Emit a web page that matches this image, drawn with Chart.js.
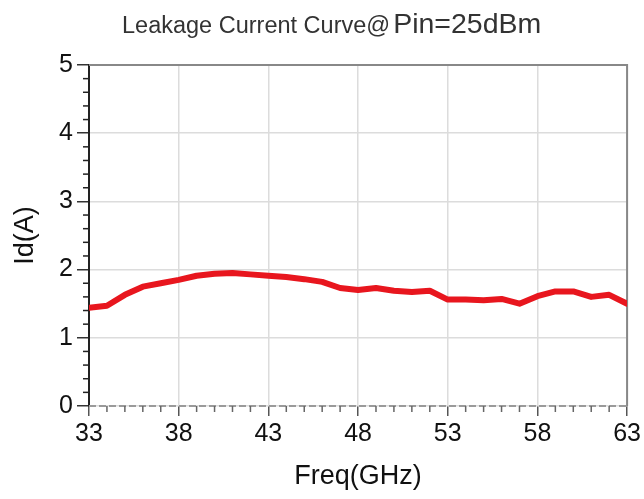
<!DOCTYPE html>
<html>
<head>
<meta charset="utf-8">
<title>Leakage Current Curve</title>
<script src="https://cdn.jsdelivr.net/npm/chart.js@4.4.1/dist/chart.umd.min.js"></script>
<style>
  html, body { margin: 0; padding: 0; background: #fff; }
  #myChart { display: block; }
</style>
</head>
<body>
<canvas id="myChart" width="644" height="499"></canvas>
<script>
// data
const freqs = [33, 34, 35, 36, 37, 38, 39, 40, 41, 42, 43, 44, 45, 46, 47, 48,
  49, 50, 51, 52, 53, 54, 55, 56, 57, 58, 59, 60, 61, 62, 63];
const leakage = [1.44, 1.47, 1.63, 1.75, 1.80, 1.85, 1.91, 1.94, 1.95, 1.93, 1.91,
  1.89, 1.86, 1.82, 1.73, 1.70, 1.73, 1.69, 1.67, 1.69, 1.56, 1.56, 1.55, 1.57,
  1.50, 1.61, 1.68, 1.68, 1.60, 1.63, 1.50];

const titleSmall = 'Leakage Current Curve@';
const titleBig = 'Pin=25dBm';

const FONT = '"Liberation Sans", Arial, sans-serif';

// title in two sizes, frame, dashed x axis line + the little minor ticks
const extras = {
  id: 'extras',
  beforeDatasetsDraw(chart) {
    const ctx = chart.ctx;
    const x = chart.scales.x;
    const y = chart.scales.y;
    ctx.save();
    // top + right frame
    ctx.strokeStyle = '#888';
    ctx.lineWidth = 2;
    ctx.beginPath();
    ctx.moveTo(x.left, y.top);
    ctx.lineTo(x.right, y.top);
    ctx.lineTo(x.right, y.bottom);
    ctx.stroke();
    // dashed x axis line
    ctx.strokeStyle = '#9a9a9a';
    ctx.setLineDash([7, 3]);
    ctx.beginPath();
    ctx.moveTo(x.left, y.bottom);
    ctx.lineTo(x.right, y.bottom);
    ctx.stroke();
    ctx.restore();
  },
  afterDraw(chart) {
    const ctx = chart.ctx;
    const x = chart.scales.x;
    const y = chart.scales.y;
    ctx.save();

    // minor ticks on x, every 1 GHz
    ctx.strokeStyle = '#666';
    ctx.lineWidth = 1.5;
    for (let v = x.min; v <= x.max; v++) {
      if ((v - x.min) % 5 === 0) continue;
      const px = x.getPixelForValue(v);
      ctx.beginPath();
      ctx.moveTo(px, y.bottom);
      ctx.lineTo(px, y.bottom + 6);
      ctx.stroke();
    }
    // minor ticks on y, every 0.2
    ctx.strokeStyle = '#222';
    for (let i = 1; i < (y.max - y.min) * 5; i++) {
      if (i % 5 === 0) continue;
      const py = y.getPixelForValue(y.min + i * 0.2);
      ctx.beginPath();
      ctx.moveTo(x.left, py);
      ctx.lineTo(x.left - 6, py);
      ctx.stroke();
    }

    // title
    ctx.fillStyle = '#333';
    ctx.textBaseline = 'alphabetic';
    ctx.textAlign = 'left';
    ctx.font = '23.5px ' + FONT;
    ctx.fillText(titleSmall, 122, 33);
    const w = ctx.measureText(titleSmall).width;
    ctx.font = '28.5px ' + FONT;
    ctx.fillText(titleBig, 122 + w + 3, 33);
    ctx.restore();
  }
};

const ctx = document.getElementById('myChart').getContext('2d');
const myChart = new Chart(ctx, {
  type: 'line',
  data: {
    datasets: [{
      label: 'Id(A)',
      data: freqs.map((f, i) => ({ x: f, y: leakage[i] })),
      borderColor: '#e8161e',
      backgroundColor: '#e8161e',
      borderWidth: 6,
      borderJoinStyle: 'round',
      borderCapStyle: 'round',
      pointRadius: 0,
      tension: 0
    }]
  },
  options: {
    responsive: false,
    animation: false,
    layout: { padding: { top: 65, right: 16, left: 0, bottom: 0 } },
    plugins: {
      legend: { display: false },
      tooltip: { enabled: false }
    },
    scales: {
      x: {
        type: 'linear',
        min: 33,
        max: 63,
        afterFit: (s) => { s.height = 93; },
        ticks: {
          stepSize: 5,
          color: '#111',
          font: { family: FONT, size: 25 },
          padding: 3,
          maxRotation: 0
        },
        grid: {
          color: '#dcdcdc',
          lineWidth: 1.5,
          tickColor: '#555',
          tickLength: 10
        },
        border: { display: false },
        title: {
          display: true,
          text: 'Freq(GHz)',
          color: '#111',
          font: { family: FONT, size: 27 },
          padding: { top: 0, bottom: 6 }
        }
      },
      y: {
        min: 0,
        max: 5,
        afterFit: (s) => { s.width = 89; },
        ticks: {
          stepSize: 1,
          color: '#111',
          font: { family: FONT, size: 25 },
          padding: 4
        },
        grid: {
          color: '#dcdcdc',
          lineWidth: 1.5,
          tickColor: '#333',
          tickLength: 12
        },
        border: { display: true, color: '#222', width: 2 },
        title: {
          display: true,
          text: 'Id(A)',
          color: '#111',
          font: { family: FONT, size: 27 },
          padding: { top: 9, bottom: 0 }
        }
      }
    }
  },
  plugins: [extras]
});
</script>
</body>
</html>
